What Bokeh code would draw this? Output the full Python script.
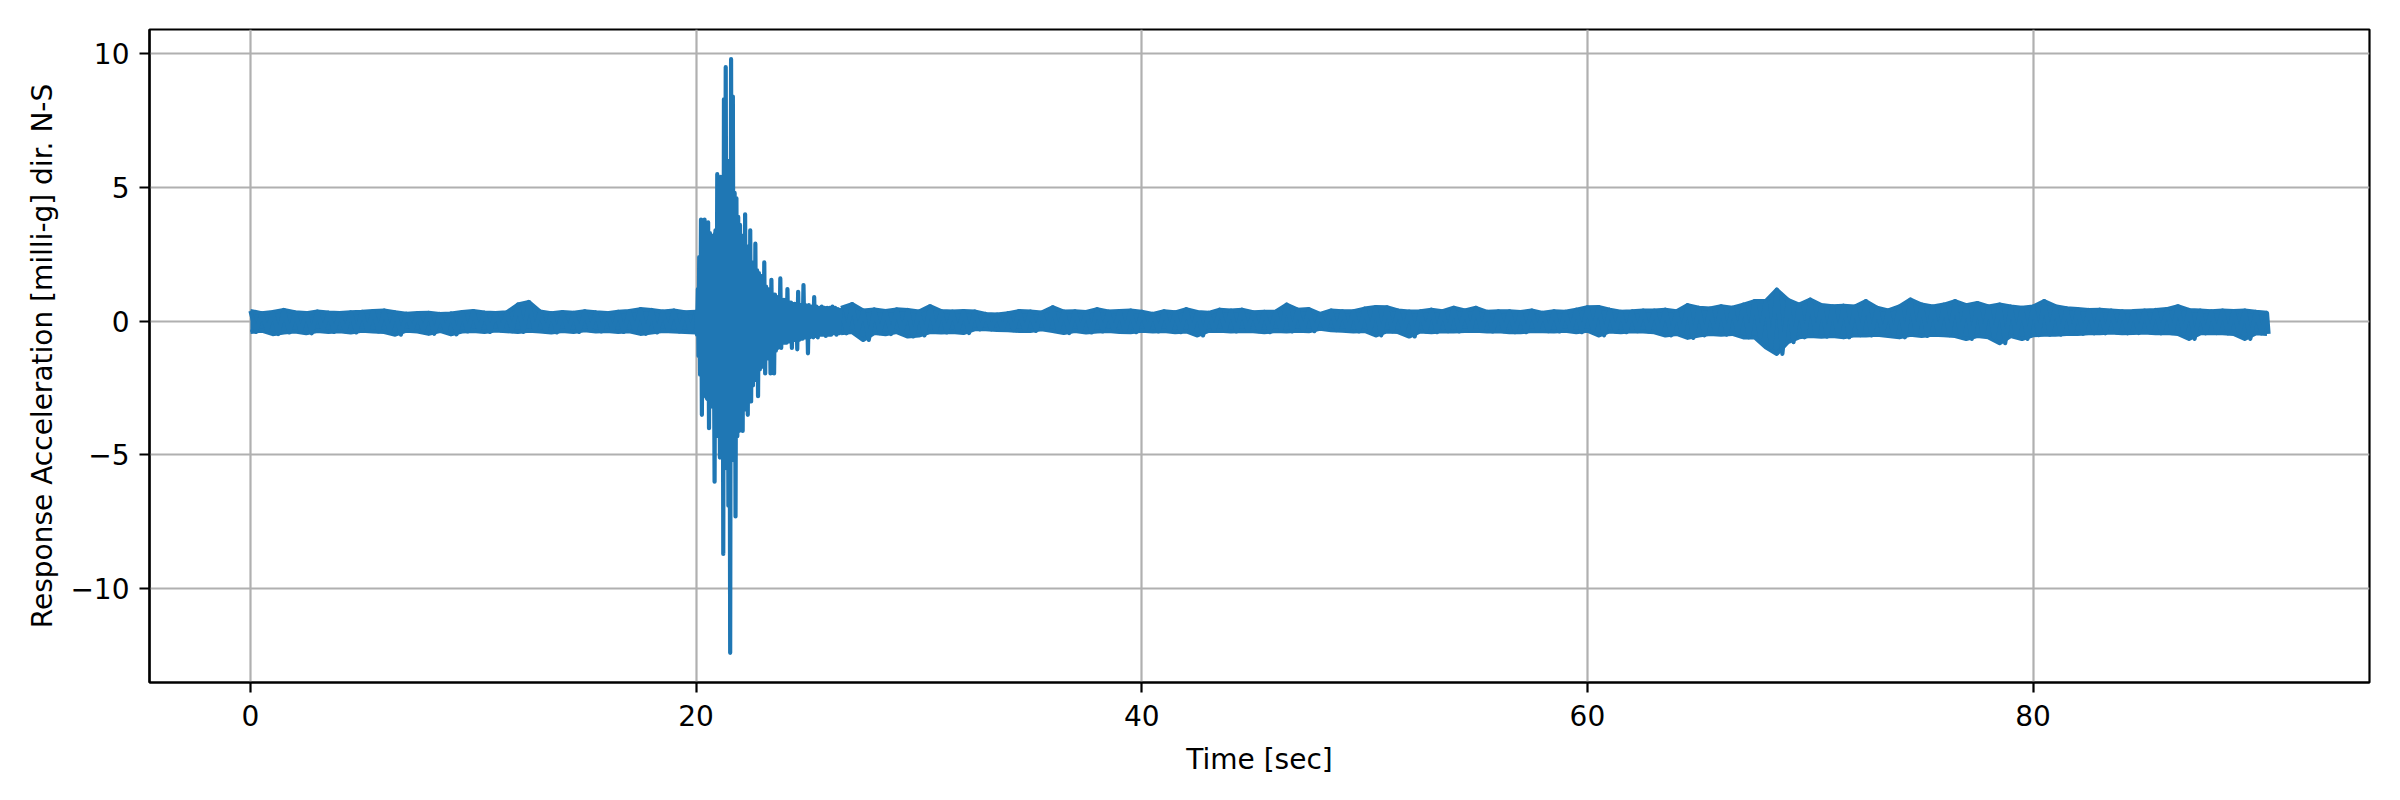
import numpy as np
from bokeh.plotting import figure
from bokeh.models import Range1d, FixedTicker
from bokeh.embed import file_html
from bokeh.resources import INLINE

# ---------------- data ----------------
record_end = 90.57  # last sample time [s]

# Quiet parts of the record: upper / lower peak of the trace in each 0.5 s window
pre_start = 0.0
pre_upper = [0.38, 0.30, 0.34, 0.42, 0.33, 0.30, 0.36, 0.32, 0.30, 0.33, 0.35,
             0.38, 0.40, 0.33, 0.28, 0.30, 0.31, 0.27, 0.29, 0.34, 0.38, 0.32,
             0.30, 0.33, 0.62, 0.72, 0.36, 0.30, 0.34, 0.31, 0.37, 0.33, 0.30,
             0.35, 0.38, 0.45, 0.42, 0.36, 0.40, 0.33, 0.35]
pre_lower = [-0.40, -0.35, -0.48, -0.42, -0.38, -0.45, -0.36, -0.40, -0.37, -0.42,
             -0.35, -0.38, -0.40, -0.50, -0.35, -0.38, -0.47, -0.36, -0.49, -0.38,
             -0.36, -0.40, -0.34, -0.37, -0.40, -0.35, -0.38, -0.42, -0.36, -0.40,
             -0.33, -0.38, -0.36, -0.40, -0.37, -0.47, -0.42, -0.36, -0.38, -0.40,
             -0.42]

post_start = 26.5
post_upper = [0.50, 0.64, 0.40, 0.44, 0.38, 0.44, 0.42, 0.36, 0.56, 0.38, 0.36, 0.38,
              0.36, 0.27, 0.25, 0.30, 0.38, 0.36, 0.32, 0.52, 0.36, 0.37, 0.34, 0.45,
              0.36, 0.38,
              0.40, 0.35, 0.27, 0.37, 0.33, 0.45, 0.34, 0.31, 0.43, 0.40, 0.43, 0.33,
              0.35, 0.35, 0.62, 0.43, 0.45, 0.27, 0.40, 0.37, 0.37, 0.47, 0.53, 0.52,
              0.40, 0.36, 0.37, 0.43, 0.37, 0.50, 0.40, 0.50, 0.35, 0.37, 0.37, 0.34,
              0.40, 0.31, 0.37, 0.35, 0.43, 0.52, 0.53, 0.43, 0.35, 0.37, 0.40, 0.40,
              0.43, 0.37, 0.60, 0.50,
              0.47, 0.56, 0.50, 0.62, 0.75, 0.75, 1.18, 0.80, 0.62, 0.81, 0.60, 0.56,
              0.58, 0.55, 0.75, 0.50, 0.40, 0.55, 0.81, 0.62, 0.55, 0.62, 0.75, 0.60,
              0.68, 0.55, 0.62, 0.55, 0.50, 0.55, 0.75, 0.56, 0.48, 0.45, 0.42, 0.43,
              0.40, 0.37, 0.38, 0.40, 0.42, 0.45, 0.56, 0.42, 0.40, 0.37, 0.40, 0.38,
              0.40, 0.35, 0.31]
post_lower = [-0.45, -0.40, -0.70, -0.44, -0.48, -0.40, -0.57, -0.53, -0.40, -0.42,
              -0.40, -0.44, -0.30, -0.30, -0.32, -0.33, -0.36, -0.36, -0.30, -0.36,
              -0.44, -0.36, -0.42, -0.38, -0.36, -0.40,
              -0.41, -0.35, -0.38, -0.36, -0.41, -0.38, -0.53, -0.36, -0.35, -0.38,
              -0.36, -0.37, -0.41, -0.36, -0.38, -0.35, -0.37, -0.28, -0.33, -0.35,
              -0.38, -0.36, -0.53, -0.38, -0.40, -0.57, -0.38, -0.41, -0.37, -0.38,
              -0.36, -0.35, -0.38, -0.37, -0.41, -0.41, -0.36, -0.37, -0.38, -0.35,
              -0.41, -0.35, -0.53, -0.38, -0.41, -0.37, -0.38, -0.41, -0.53, -0.47,
              -0.62, -0.53,
              -0.47, -0.50, -0.47, -0.60, -0.60, -0.97, -1.22, -0.78, -0.60, -0.55,
              -0.58, -0.55, -0.60, -0.52, -0.53, -0.50, -0.55, -0.60, -0.50, -0.55,
              -0.50, -0.52, -0.55, -0.66, -0.55, -0.60, -0.82, -0.55, -0.66, -0.52,
              -0.50, -0.50, -0.47, -0.47, -0.45, -0.45, -0.42, -0.45, -0.44, -0.42,
              -0.45, -0.44, -0.47, -0.66, -0.45, -0.44, -0.45, -0.47, -0.66, -0.45,
              -0.47]

# Solid core of the strong-motion burst (where the trace fills the area)
core_t = [20.00, 20.10, 20.20, 20.30, 20.50, 20.70, 20.90, 21.10, 21.30, 21.50,
          21.70, 21.90, 22.10, 22.30, 22.50, 22.70, 22.90, 23.20, 23.50, 24.00,
          24.50, 25.00, 25.50, 26.00, 26.50]
core_upper = [0.30, 1.00, 2.60, 3.00, 3.30, 3.20, 3.50, 4.50, 5.00, 5.50,
              4.50, 3.50, 3.00, 2.50, 2.00, 1.80, 1.50, 1.10, 0.90, 0.70,
              0.60, 0.55, 0.50, 0.45, 0.45]
core_lower = [-0.30, -1.00, -2.00, -2.80, -3.00, -3.00, -3.80, -4.50, -5.00, -5.00,
              -4.50, -3.80, -3.50, -3.00, -2.50, -2.20, -1.70, -1.40, -1.00, -0.80,
              -0.70, -0.60, -0.55, -0.50, -0.45]

# Strong-motion burst (20 - 26.5 s): successive peaks of the trace
burst_t = [20.00, 20.04, 20.08, 20.11, 20.14, 20.18, 20.22, 20.26, 20.30, 20.34,
           20.38, 20.42, 20.46, 20.50, 20.54, 20.58, 20.62, 20.66, 20.70, 20.74,
           20.78, 20.83, 20.87, 20.91, 20.95, 20.99, 21.03, 21.07, 21.11, 21.15,
           21.19, 21.22, 21.25, 21.29, 21.33, 21.37, 21.41, 21.45, 21.49, 21.53,
           21.57, 21.61, 21.65, 21.69, 21.73, 21.77, 21.81, 21.85, 21.89, 21.93,
           21.97, 22.01, 22.05, 22.09, 22.13, 22.17, 22.20, 22.24, 22.28, 22.32,
           22.36, 22.40, 22.43, 22.47, 22.51, 22.55, 22.59, 22.63, 22.66, 22.70,
           22.74, 22.78, 22.82, 22.86, 22.90, 22.94, 22.98, 23.02, 23.06, 23.10,
           23.14, 23.18, 23.22, 23.26, 23.30, 23.34, 23.38, 23.42, 23.46, 23.50,
           23.54, 23.58, 23.62, 23.66, 23.70, 23.74, 23.78, 23.82, 23.86, 23.90,
           23.94, 23.98, 24.02, 24.06, 24.10, 24.14, 24.18, 24.22, 24.26, 24.30,
           24.34, 24.38, 24.42, 24.46, 24.50, 24.54, 24.58, 24.62, 24.66, 24.70,
           24.74, 24.78, 24.82, 24.86, 24.90, 24.94, 24.98, 25.02, 25.06, 25.10,
           25.14, 25.18, 25.22, 25.26, 25.30, 25.34, 25.40, 25.46, 25.52, 25.58,
           25.64, 25.70, 25.76, 25.82, 25.88, 25.94, 26.00, 26.06, 26.12, 26.18,
           26.24, 26.30, 26.36, 26.42, 26.48]
burst_a = [0.30, -0.50, 1.20, -1.30, 2.40, -2.00, 3.80, -3.50, 2.80, -2.60,
           3.80, -1.80, 2.90, -2.90, 3.70, -4.00, 3.30, -2.80, 3.20, -3.20,
           3.00, -6.00, 3.40, -4.20, 5.50, -4.30, 4.60, -5.10, 5.40, -4.60,
           5.00, -8.70, 8.30, -5.20, 9.50, -5.50, 5.70, -6.90, 6.00, -12.40,
           9.80, -5.00, 8.40, -5.20, 4.80, -7.30, 4.60, -4.30, 3.90, -4.10,
           3.60, -3.50, 3.20, -4.10, 3.00, -3.30, 4.00, -3.00, 2.80, -3.50,
           2.60, -2.60, 3.40, -3.00, 2.20, -2.40, 2.10, -2.00, 2.90, -2.20,
           1.90, -2.80, 1.80, -1.80, 1.70, -1.70, 1.50, -1.60, 2.20, -1.95,
           1.30, -1.40, 1.20, -1.30, 1.10, -1.95, 1.55, -1.20, 1.00, -1.95,
           1.00, -1.10, 0.90, -1.00, 0.90, -0.90, 1.60, -1.00, 0.80, -0.80,
           0.80, -0.80, 0.75, -0.80, 1.20, -0.75, 0.70, -0.75, 0.70, -1.00,
           0.65, -0.70, 0.65, -0.70, 0.60, -1.05, 1.10, -0.70, 0.60, -0.65,
           0.60, -0.65, 1.35, -0.60, 0.60, -0.60, 0.55, -1.20, 0.60, -0.60,
           0.55, -0.55, 0.55, -0.60, 0.90, -0.55, 0.55, -0.60, 0.50, -0.50,
           0.55, -0.50, 0.50, -0.55, 0.50, -0.50, 0.50, -0.50, 0.55, -0.45,
           0.50, -0.50, 0.45, -0.45, 0.50]

x_ticks = [0, 20, 40, 60, 80]
y_ticks = [-10, -5, 0, 5, 10]
y_tick_labels = {-10: "\u221210", -5: "\u22125", 0: "0", 5: "5", 10: "10"}
x_label = "Time [sec]"
y_label = "Response Acceleration [milli-g] dir. N-S"

# ---------------- styles ----------------
BLUE = "#1f77b4"
LW = 4.2
FONT = "DejaVu Sans"
FS = "28px"

p = figure(frame_width=2220, frame_height=653,
           x_range=Range1d(-4.53, 95.1), y_range=Range1d(-13.51, 10.91),
           output_backend="svg", toolbar_location=None,
           min_border_left=149, min_border_right=16,
           min_border_top=29, min_border_bottom=95)
p.background_fill_color = "white"
p.border_fill_color = "white"
p.outline_line_color = "black"
p.outline_line_width = 2.2


def envelope(start, upper, lower):
    n = min(len(upper), len(lower))
    t = np.minimum(start + 0.5 * np.arange(n), record_end)
    up = np.asarray(upper[:n], dtype=float)
    lo = np.asarray(lower[:n], dtype=float)
    # band between the peaks
    p.varea(x=t, y1=lo, y2=up, fill_color=BLUE, fill_alpha=1.0)
    p.line(t, up, line_color=BLUE, line_width=LW, line_join="round")
    p.line(t, lo, line_color=BLUE, line_width=LW, line_join="round")
    # trace zig-zagging between the peaks
    zx = np.empty(2 * n)
    zy = np.empty(2 * n)
    zx[0::2] = t
    zx[1::2] = np.minimum(t + 0.25, record_end)
    zy[0::2] = up
    zy[1::2] = lo
    p.line(zx, zy, line_color=BLUE, line_width=LW, line_join="round")


envelope(pre_start, pre_upper, pre_lower)
envelope(post_start, post_upper, post_lower)
p.varea(x=core_t, y1=core_lower, y2=core_upper, fill_color=BLUE, fill_alpha=1.0)
p.line(burst_t, burst_a, line_color=BLUE, line_width=LW, line_join="round")

# ---------------- axes ----------------
p.xaxis.ticker = FixedTicker(ticks=x_ticks)
p.yaxis.ticker = FixedTicker(ticks=y_ticks)
p.yaxis.major_label_overrides = y_tick_labels
p.xaxis.axis_label = x_label
p.yaxis.axis_label = y_label

for ax in (p.xaxis, p.yaxis):
    ax.axis_line_color = "black"
    ax.axis_line_width = 2.2
    ax.major_tick_line_color = "black"
    ax.major_tick_line_width = 2.2
    ax.major_tick_out = 10
    ax.major_tick_in = 0
    ax.minor_tick_line_color = None
    ax.major_label_text_font = FONT
    ax.major_label_text_font_size = FS
    ax.major_label_text_color = "black"
    ax.major_label_standoff = 10
    ax.axis_label_text_font = FONT
    ax.axis_label_text_font_size = FS
    ax.axis_label_text_font_style = "normal"
    ax.axis_label_text_color = "black"

p.xaxis.major_label_standoff = 12
p.xaxis.axis_label_standoff = 14
p.yaxis.axis_label_standoff = 8

p.xgrid.ticker = FixedTicker(ticks=x_ticks)
p.ygrid.ticker = FixedTicker(ticks=y_ticks)
for g in (p.xgrid, p.ygrid):
    g.grid_line_color = "#b0b0b0"
    g.grid_line_width = 2.2
    g.grid_line_alpha = 1.0

open("out.html", "w").write(file_html(p, INLINE))
